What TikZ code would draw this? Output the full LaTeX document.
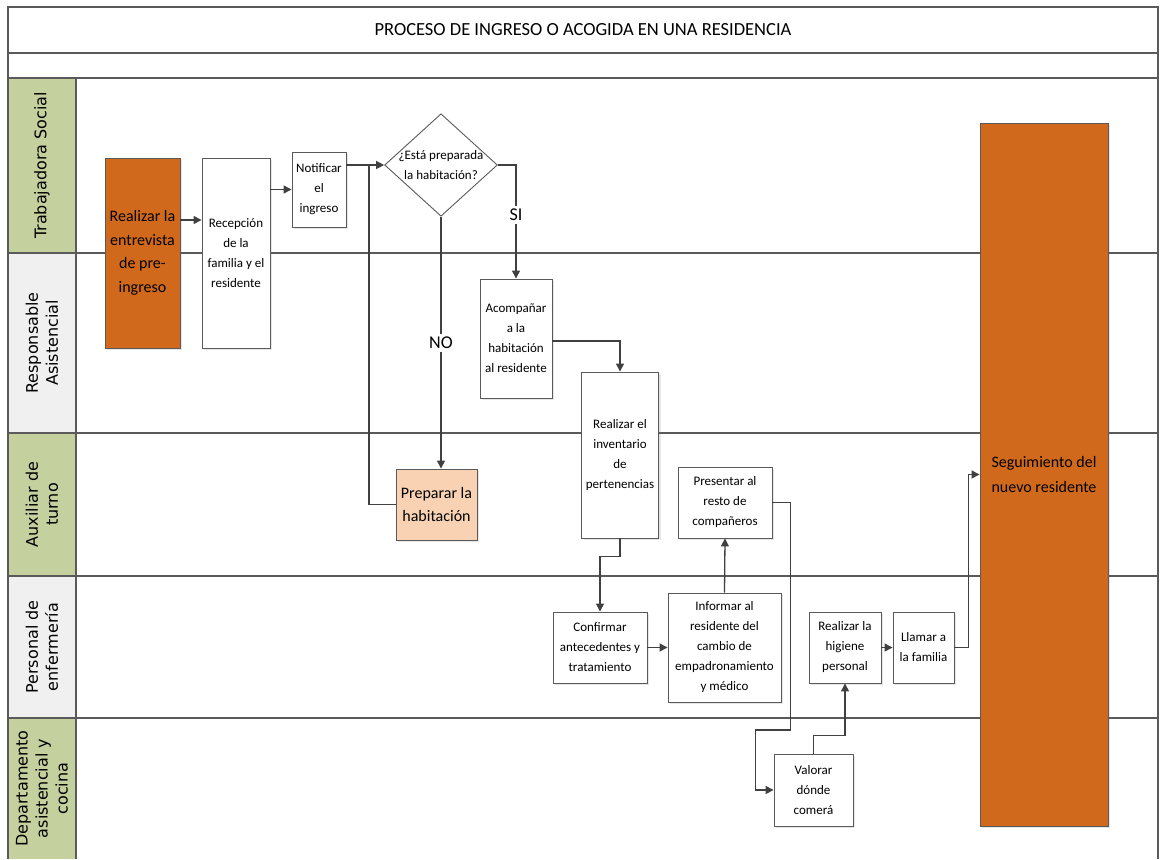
\documentclass[tikz,border=0pt]{standalone}
\usepackage{fontspec}
\setmainfont{Carlito}
\newfontfamily\lanefont{DejaVu Sans}
\usetikzlibrary{shapes.geometric,arrows.meta,shadows}
\definecolor{rustorange}{HTML}{D1691C}
\definecolor{peach}{HTML}{F9D2B3}
\definecolor{lanegreen}{HTML}{C5D09F}
\definecolor{lanegray}{HTML}{F0F0F0}
\definecolor{linegray}{HTML}{5A5A5A}
\definecolor{arrowgray}{HTML}{404040}

\begin{document}
\begin{tikzpicture}[x=1pt,y=-1pt,
	box/.style={draw=linegray,fill=white,align=center,inner sep=2pt,line width=0.9pt,
		font=\fontsize{13}{20}\selectfont,
		drop shadow={shadow xshift=2pt,shadow yshift=-2pt,opacity=0.2}},
	bigbox/.style={box,font=\fontsize{16}{23.5}\selectfont},
	decision/.style={diamond,draw=linegray,fill=white,aspect=1.1,inner sep=-1pt,align=center,
		line width=0.9pt,font=\fontsize{13}{20}\selectfont},
	lanelabel/.style={rotate=90,align=center,font=\lanefont\fontsize{16}{20}\selectfont},
	lanerule/.style={draw=linegray,line width=1.3pt},
	conn/.style={draw=arrowgray,line width=1.3pt},
	arr/.style={conn,-{Triangle[length=8pt,width=8pt]}},
	answer/.style={fill=white,inner sep=3pt,font=\fontsize{18}{20}\selectfont}]
	\useasboundingbox (0,0) rectangle (1161,859);
	\foreach \ya/\yb/\col/\nm/\txt in {78/253/lanegreen/ts/{Trabajadora Social},
			253/433/lanegray/ra/{Responsable\\Asistencial},
			433/576/lanegreen/at/{Auxiliar de\\turno},
			576/718/lanegray/pe/{Personal de\\enfermería},
			718/859/lanegreen/dc/{Departamento\\asistencial y\\cocina}} {
		\fill[\col] (8,\ya) rectangle (76,\yb);
		\node[lanelabel] (lane-\nm) at (42,{(\ya+\yb)/2}) {\txt};
	}
	\draw[lanerule] (8,859) -- (8,7) -- (1158,7) -- (1158,859);
	\foreach \y in {53,78,253,433,576,718}
		\draw[lanerule] (8,\y) -- (1158,\y);
	\draw[lanerule] (76,78) -- (76,859);
	\node[font=\fontsize{18.5}{20}\selectfont] (titulo) at (583,30) {PROCESO DE INGRESO O ACOGIDA EN UNA RESIDENCIA};

	\node[bigbox,fill=rustorange,minimum width=75pt,minimum height=190pt] (entrevista) at (142.5,253) {Realizar la\\entrevista\\de pre-\\ingreso};
	\node[box,minimum width=68pt,minimum height=190pt] (recepcion) at (236,253) {Recepción\\de la\\familia y el\\residente};
	\node[box,minimum width=54pt,minimum height=75pt] (notificar) at (319,189.5) {Notificar\\el\\ingreso};
	\node[decision] (pregunta) at (441,165) {¿Está preparada\\la habitación?};
	\node[box,minimum width=72pt,minimum height=119pt] (acompanar) at (516,338.5) {Acompañar\\a la\\habitación\\al residente};
	\node[box,minimum width=77pt,minimum height=166pt] (inventario) at (620,455) {Realizar el\\inventario\\de\\pertenencias};
	\node[bigbox,fill=peach,minimum width=81pt,minimum height=71pt] (preparar) at (436.5,504.5) {Preparar la\\habitación};
	\node[box,minimum width=94pt,minimum height=71pt] (presentar) at (725,502.5) {Presentar al\\resto de\\compañeros};
	\node[box,minimum width=94pt,minimum height=71pt] (confirmar) at (600,647.5) {Confirmar\\antecedentes y\\tratamiento};
	\node[box,minimum width=113pt,minimum height=109pt] (informar) at (724.5,647.5) {Informar al\\residente del\\cambio de\\empadronamiento\\y médico};
	\node[box,minimum width=72pt,minimum height=71pt] (higiene) at (845,647.5) {Realizar la\\higiene\\personal};
	\node[box,minimum width=61pt,minimum height=71pt] (llamar) at (923.5,647.5) {Llamar a\\la familia};
	\node[box,minimum width=79pt,minimum height=72pt] (valorar) at (813.5,790) {Valorar\\dónde\\comerá};
	\node[bigbox,fill=rustorange,minimum width=128pt,minimum height=703pt,font=\fontsize{16}{25}\selectfont] (seguimiento) at (1044,474.5) {Seguimiento del\\nuevo residente};

	\coordinate (retorno) at (369,165);
	\draw[arr] (entrevista.east |- 0,220) -- (recepcion.west |- 0,220);
	\draw[arr] (recepcion.east |- notificar.west) -- (notificar.west);
	\draw[arr] (notificar.east |- pregunta.west) -- (pregunta.west);
	\draw[conn] (preparar.west) -| (retorno);
	\draw[arr] (pregunta.south) -- node[answer]{NO} (pregunta.south |- preparar.north);
	\draw[arr] (pregunta.east) -| node[answer,pos=0.72]{SI} (acompanar.north);
	\draw[arr] (acompanar.east |- 0,341) -| (inventario.north);
	\draw[arr] (inventario.south) -- ++(0,18) -| (confirmar.north);
	\draw[arr] (confirmar.east) -- (informar.west);
	\draw[arr] (informar.north) -- (presentar.south);
	\draw[arr] (presentar.east) -- ++(18,0) -- ++(0,227.5) -- ++(-35,0) |- (valorar.west);
	\draw[arr] (valorar.north) -- ++(0,-18) -| (higiene.south);
	\draw[arr] (higiene.east) -- (llamar.west);
	\draw[arr] (llamar.east) -- ++(14,0) |- (seguimiento.west);
\end{tikzpicture}
\end{document}
